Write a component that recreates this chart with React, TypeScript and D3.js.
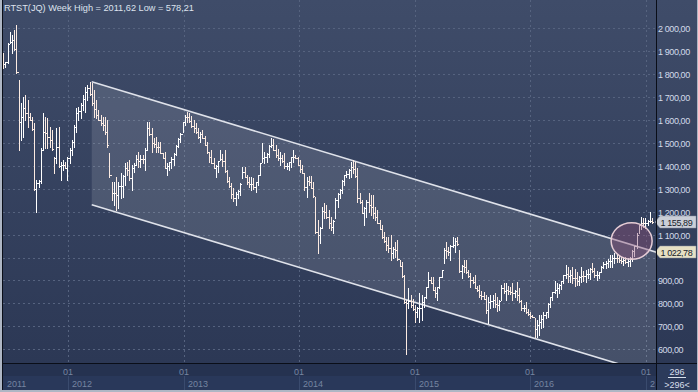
import React from "react";
import * as d3 from "d3";

const W = 698;
const H = 392;

const TITLE = "RTST(JQ) Week High = 2011,62 Low = 578,21";
const FIRST_BAR_DATE = Date.UTC(2011, 5, 10);
const FIRST_OPEN = 1860;

const HIGHS = [
  1890,1853,1936,1984,1970,1990,2011.62,1774,1672,1701,
  1708,1686,1628,1614,1585,1338,1338,1476,1628,1614,
  1607,1570,1556,1440,1563,1570,1418,1425,1418,1440,
  1476,1512,1577,1650,1657,1672,1708,1745,1752,1766,
  1759,1730,1686,1643,1621,1614,1614,1599,1454,1331,
  1331,1352,1331,1367,1360,1410,1418,1425,1403,1411,
  1447,1461,1447,1447,1476,1592,1592,1563,1519,1527,
  1505,1505,1454,1461,1411,1418,1439,1454,1490,1519,
  1541,1592,1621,1635,1631,1617,1599,1585,1563,1548,
  1556,1530,1505,1461,1469,1432,1403,1422,1469,1451,
  1469,1381,1352,1323,1302,1287,1294,1323,1396,1396,
  1360,1349,1349,1345,1330,1360,1413,1497,1461,1454,
  1490,1519,1515,1490,1471,1461,1447,1454,1413,1418,
  1439,1468,1447,1439,1425,1403,1367,1352,1355,1355,
  1330,1265,1163,1134,1222,1236,1229,1207,1178,1163,
  1258,1280,1297,1338,1360,1378,1384,1418,1425,1418,
  1389,1280,1251,1222,1251,1280,1272,1272,1222,1207,
  1163,1142,1113,1091,1088,1098,1047,1069,1076,989,
  982,924,815,866,837,818,793,786,844,837,
  829,873,938,914,917,873,873,917,946,1040,
  1069,1047,1055,1091,1084,1091,1033,967,989,989,
  946,931,917,924,876,880,855,851,837,829,
  837,837,844,826,815,880,891,891,876,870,
  888,859,895,866,815,793,808,774,764,750,
  735,728,750,750,764,764,800,829,851,899,
  888,885,899,924,967,960,946,960,949,938,
  919,960,943,946,949,953,975,953,943,938,
  963,982,985,992,1011,1011,1018,1015,1011,1004,
  1004,1004,996,1004,1033,1050,1105,1142,1175,1170,
  1171,1163,1200,1171,
];

const LOWS = [
  1824,1832,1846,1933,1890,1904,1803,1469,1512,1527,
  1599,1570,1599,1556,1294,1200,1309,1323,1469,1476,
  1476,1483,1469,1367,1410,1396,1338,1381,1389,1338,
  1410,1447,1483,1548,1599,1607,1643,1636,1686,1708,
  1665,1614,1607,1599,1577,1556,1540,1483,1352,1251,
  1229,1207,1215,1258,1265,1316,1360,1338,1294,1374,
  1403,1396,1396,1411,1381,1469,1534,1461,1483,1461,
  1461,1454,1432,1389,1360,1381,1389,1403,1447,1483,
  1505,1548,1577,1592,1592,1567,1548,1541,1519,1505,
  1519,1490,1454,1418,1410,1389,1352,1374,1425,1399,
  1374,1330,1309,1258,1248,1229,1258,1273,1345,1349,
  1320,1309,1294,1297,1287,1316,1360,1418,1410,1418,
  1439,1483,1468,1439,1425,1403,1418,1389,1384,1381,
  1396,1418,1432,1403,1374,1367,1294,1265,1316,1301,
  1265,1105,1018,1062,1127,1171,1171,1127,1120,1105,
  1171,1222,1258,1280,1316,1349,1345,1352,1367,1352,
  1243,1236,1193,1142,1178,1200,1185,1171,1163,1149,
  1123,1084,1069,1033,1025,989,996,1004,989,963,
  917,800,578.21,779,786,771,720,742,720,728,
  786,822,873,888,858,829,815,866,917,975,
  996,1011,989,1047,1025,1055,938,909,938,931,
  917,873,888,866,855,829,818,818,757,713,
  779,786,786,768,771,815,847,815,841,841,
  815,829,815,808,771,768,757,750,735,739,
  655,652,662,691,699,735,742,786,815,844,
  829,847,861,888,909,895,895,888,876,880,
  880,895,899,895,909,905,938,917,902,909,
  938,953,956,957,960,960,975,982,982,975,
  967,975,963,963,986,1007,1040,1105,1123,1131,
  1127,1142,1156,1152,
];

const CLOSES = [
  1842,1850,1930,1940,1947,1910,1810,1592,1614,1653,
  1628,1613,1600,1560,1300,1323,1335,1470,1545,1541,
  1526,1512,1472,1435,1483,1400,1403,1403,1392,1435,
  1470,1505,1570,1628,1640,1665,1690,1719,1737,1712,
  1672,1646,1621,1599,1585,1577,1545,1490,1360,1280,
  1280,1273,1312,1312,1355,1389,1381,1348,1392,1405,
  1428,1421,1429,1428,1470,1563,1540,1501,1494,1483,
  1480,1455,1435,1392,1400,1414,1428,1450,1485,1515,
  1538,1590,1613,1611,1595,1573,1563,1545,1526,1537,
  1522,1492,1458,1440,1412,1392,1398,1420,1428,1421,
  1378,1332,1312,1275,1258,1276,1290,1320,1372,1352,
  1329,1321,1321,1308,1328,1358,1410,1435,1436,1450,
  1487,1491,1470,1448,1432,1432,1421,1398,1400,1415,
  1436,1440,1434,1405,1385,1370,1308,1335,1328,1303,
  1268,1110,1098,1130,1203,1200,1175,1149,1134,1160,
  1251,1277,1295,1335,1358,1364,1382,1396,1385,1356,
  1258,1240,1195,1214,1240,1228,1221,1192,1178,1152,
  1125,1091,1072,1056,1043,1021,1036,1032,992,965,
  920,805,800,811,795,775,764,782,782,807,
  828,870,901,890,860,844,870,915,945,1032,
  1029,1022,1052,1054,1073,1058,940,963,960,935,
  918,902,895,868,857,836,834,820,771,808,
  811,815,797,793,812,869,853,858,855,851,
  844,855,837,810,780,782,762,752,744,740,
  690,706,720,731,749,762,798,826,848,858,
  866,880,897,922,927,920,924,912,909,899,
  917,921,920,929,929,950,940,922,923,936,
  960,970,974,985,985,996,998,996,989,985,
  989,979,983,1000,1028,1048,1100,1140,1150,1149,
  1152,1160,1161,1155.89,
];

const Y_TICKS = [600, 700, 800, 900, 1000, 1100, 1200, 1300, 1400, 1500, 1600, 1700, 1800, 1900, 2000];
const YEARS = [2011, 2012, 2013, 2014, 2015, 2016, 2017];
const MONTH_LABEL = "01";

// regression channel: [bar index, value] on the upper line, and vertical width
const CHANNEL_UPPER: [number, number][] = [[40, 1766], [295, 1022.78]];
const CHANNEL_WIDTH = 536;
const CHANNEL_END_VALUE = 1022.78;
const LAST_CLOSE = 1155.89;
const ELLIPSE_CENTER: [number, number] = [283.8, 1072];
const BAR_COUNT_LABEL = "296";

const fmt = d3.formatLocale({ decimal: ",", thousands: " ", grouping: [3], currency: ["", ""] }).format(",.2f");

export default function App() {
  const PL = 3, PR = 656, PT = 0, PB = 363;
  const WEEK = 7 * 864e5;
  const x = d3.scaleUtc()
    .domain([new Date(Date.UTC(2012, 0, 1)), new Date(Date.UTC(2017, 0, 1))])
    .range([68, 646]);
  const barX = (k: number) => x(new Date(FIRST_BAR_DATE + k * WEEK));
  const y = d3.scaleLinear().domain([600, 2000]).range([349.3, 28]);

  const bars = HIGHS.map((h, i) => {
    const open = i === 0 ? FIRST_OPEN : CLOSES[i - 1];
    return { i, high: h, low: LOWS[i], close: CLOSES[i], open };
  });

  const gridX = YEARS.slice(1).map((yr) => Math.round(x(new Date(Date.UTC(yr, 0, 1)))));

  const ux0 = barX(CHANNEL_UPPER[0][0]);
  const ux1 = barX(CHANNEL_UPPER[1][0]);
  const uy0 = y(CHANNEL_UPPER[0][1]);
  const uy1 = y(CHANNEL_UPPER[1][1]);
  const ly0 = y(CHANNEL_UPPER[0][1] - CHANNEL_WIDTH);
  const ly1 = y(CHANNEL_UPPER[1][1] - CHANNEL_WIDTH);

  const font = "Liberation Sans, Arial, sans-serif";

  const boxYs = [y(LAST_CLOSE), y(CHANNEL_END_VALUE)];
  const visibleTicks = Y_TICKS.filter((t) => boxYs.every((by) => Math.abs(y(t) - by) > 8));

  // year labels are cut at the plot's right edge (about 5px per digit)
  const yearText = (label: string, lx: number) => {
    const room = Math.floor((PR - lx) / 5);
    return label.slice(0, Math.max(0, room));
  };

  const labelBox = (v: number, fill: string, key: string) => {
    const yc = Math.round(y(v));
    const pts = [
      [655, yc], [660, yc - 6], [696, yc - 6], [696, yc + 6], [660, yc + 6],
    ].map((p) => p.join(",")).join(" ");
    return (
      <g key={key}>
        <polygon points={pts} fill={fill} stroke="#8a90a0" strokeWidth={0.5} />
        <text x={660.5} y={yc + 3.5} fontSize={9} letterSpacing={-0.4} fill="#161c2a" fontFamily={font}>{fmt(v)}</text>
      </g>
    );
  };

  return (
    <svg width={W} height={H} style={{ position: "absolute", left: 0, top: 0, display: "block" }}>
      <defs>
        <linearGradient id="bg" x1="0" y1="0" x2="0" y2="1">
          <stop offset="0" stopColor="#3f4c69" />
          <stop offset="1" stopColor="#2c3855" />
        </linearGradient>
        <clipPath id="plotClip">
          <rect x={PL} y={PT} width={PR - PL} height={PB - PT} />
        </clipPath>
        <clipPath id="axisClip">
          <rect x={PL} y={PB} width={PR - PL} height={H - PB} />
        </clipPath>
      </defs>

      {/* full background */}
      <rect x={0} y={0} width={W} height={H} fill="#26324f" />
      <rect x={PL} y={PT} width={PR - PL} height={PB - PT} fill="url(#bg)" />
      <rect x={PR + 1} y={0} width={W - PR - 1} height={PB} fill="url(#bg)" />

      {/* gridlines */}
      <g stroke="#56637f" strokeWidth={1} strokeDasharray="2,3">
        {Y_TICKS.map((t) => (
          <line key={t} x1={PL} x2={PR} y1={Math.round(y(t)) + 0.5} y2={Math.round(y(t)) + 0.5} />
        ))}
        {gridX.map((gx) => (
          <line key={gx} x1={gx + 0.5} x2={gx + 0.5} y1={PT} y2={PB} />
        ))}
      </g>

      {/* channel */}
      <g clipPath="url(#plotClip)">
        <polygon
          points={`${ux0},${uy0} ${ux1},${uy1} ${ux1},${ly1} ${ux0},${ly0}`}
          fill="#ffffff"
          fillOpacity={0.12}
        />
        <line x1={ux0} y1={uy0} x2={ux1} y2={uy1} stroke="#dfe2ea" strokeWidth={1.6} />
        <line x1={ux0} y1={ly0} x2={ux1} y2={ly1} stroke="#dfe2ea" strokeWidth={1.6} />
      </g>

      {/* OHLC bars */}
      <g clipPath="url(#plotClip)" shapeRendering="crispEdges">
        {bars.map((b) => {
          const bx = Math.round(barX(b.i));
          const yh = Math.round(y(b.high));
          const yl = Math.round(y(b.low));
          const col = b.close >= b.open ? "#ffffff" : "#fcebe2";
          return (
            <g key={b.i} fill={col}>
              <rect x={bx} y={yh} width={1} height={Math.max(1, yl - yh + 1)} />
              <rect x={bx - 1} y={Math.round(y(b.open))} width={1} height={1} />
              <rect x={bx + 1} y={Math.round(y(b.close))} width={1} height={1} />
            </g>
          );
        })}
      </g>

      {/* ellipse highlight */}
      <ellipse
        cx={barX(ELLIPSE_CENTER[0])}
        cy={y(ELLIPSE_CENTER[1])}
        rx={20.5}
        ry={18.3}
        fill="rgb(140,80,120)"
        fillOpacity={0.42}
        stroke="#e6cdd6"
        strokeWidth={1.5}
      />

      {/* title */}
      <text x={4} y={11} fontSize={9.2} fill="#dde3ee" fontFamily={font}>{TITLE}</text>

      {/* bottom axis */}
      <rect x={0} y={PB + 1} width={PR} height={H - PB - 1} fill="#253250" />
      <rect x={PL} y={376} width={PR - PL} height={14} fill="#29385a" />
      <g stroke="#3a4b6e" strokeWidth={1}>
        {gridX.map((gx) => (
          <line key={gx} x1={gx + 0.5} x2={gx + 0.5} y1={376} y2={390} />
        ))}
      </g>
      <g fontFamily={font} fontSize={9} fill="#7585a0" clipPath="url(#axisClip)">
        {gridX.map((gx) => (
          <text key={gx} x={gx} y={375} textAnchor="middle">{MONTH_LABEL}</text>
        ))}
        <text x={7} y={387}>{YEARS[0]}</text>
        {gridX.map((gx, k) => (
          <text key={"y" + gx} x={gx + 4} y={387}>{yearText(String(YEARS[k + 1]), gx + 4)}</text>
        ))}
      </g>

      {/* right axis */}
      <g fontFamily={font} fontSize={9} letterSpacing={-0.4} fill="#d3dbe9">
        {visibleTicks.map((t) => (
          <text key={t} x={658} y={Math.round(y(t)) + 3.5}>{fmt(t)}</text>
        ))}
      </g>
      {labelBox(LAST_CLOSE, "#caced7", "last")}
      {labelBox(CHANNEL_END_VALUE, "#e6e0c4", "chan")}

      {/* bottom-right box */}
      <rect x={PR + 1} y={PB + 1} width={W - PR - 1} height={H - PB - 1} fill="#2c3b5b" />
      <g fontFamily={font} fontSize={9} fill="#d8dfea" textAnchor="middle">
        <text x={677} y={375}>{BAR_COUNT_LABEL}</text>
        <text x={677} y={388}>{">" + BAR_COUNT_LABEL + "<"}</text>
      </g>
      <line x1={668} x2={686} y1={377.5} y2={377.5} stroke="#d8dfea" strokeWidth={1} />

      {/* frame lines */}
      <line x1={PR + 0.5} x2={PR + 0.5} y1={0} y2={H} stroke="#0a0e18" strokeWidth={1} />
      <line x1={0} x2={W} y1={PB + 0.5} y2={PB + 0.5} stroke="#0a0e18" strokeWidth={1} />
      <line x1={2.5} x2={2.5} y1={0} y2={H} stroke="#0a0e18" strokeWidth={1} />
      <rect x={0} y={0} width={2} height={H} fill="#aeb6c4" />
      <rect x={0} y={H - 2} width={W} height={2} fill="#aeb6c4" />
      <rect x={W - 1} y={0} width={1} height={H} fill="#aeb6c4" />
    </svg>
  );
}
